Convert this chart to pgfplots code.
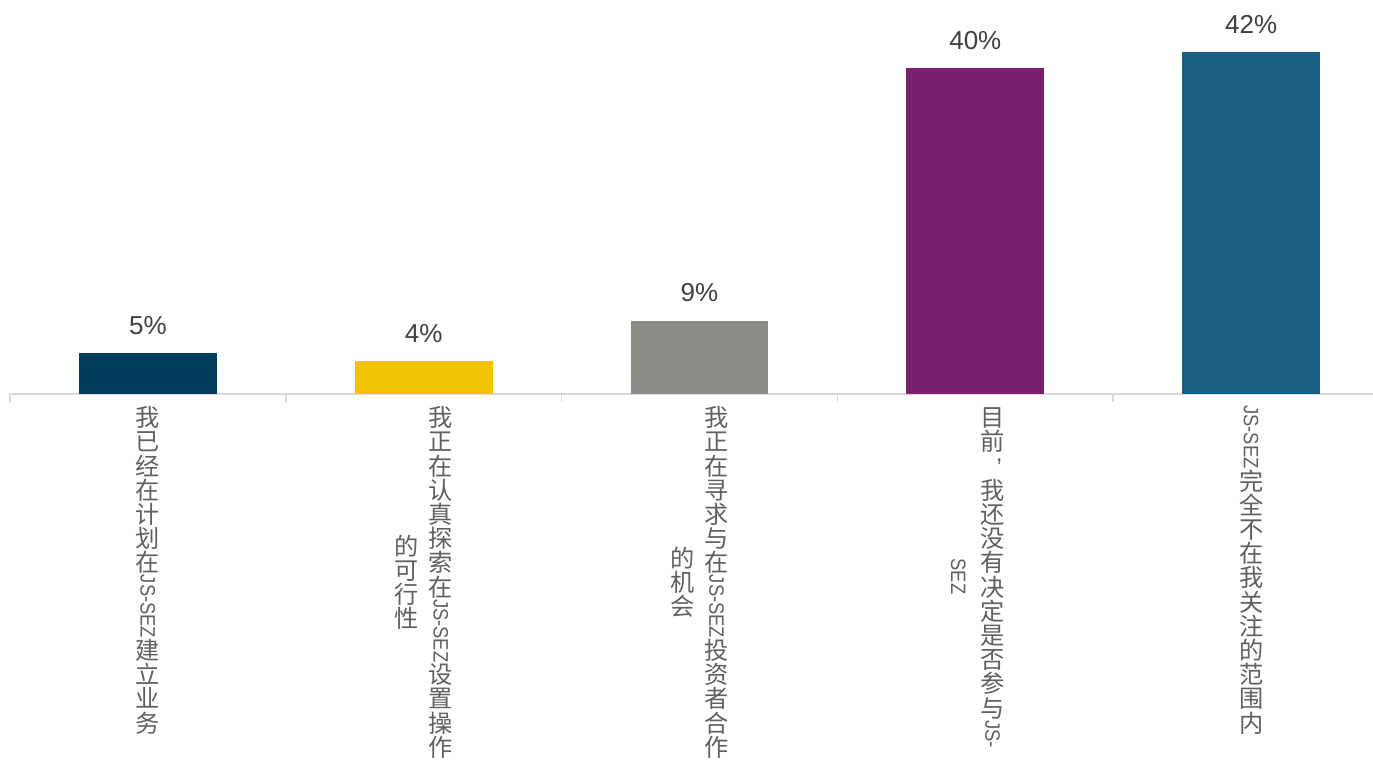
\documentclass[border=0pt]{standalone}
\usepackage{pgfplots}
\pgfplotsset{compat=1.18}
\usepackage{graphicx}
\usepackage{fontspec}
\setmainfont{Liberation Sans}
\newfontfamily\cjk{Noto Sans CJK SC}

\definecolor{cA}{HTML}{003D5C}
\definecolor{cB}{HTML}{F2C300}
\definecolor{cC}{HTML}{8C8C87}
\definecolor{cD}{HTML}{7A1F6C}
\definecolor{cE}{HTML}{176082}
\definecolor{axgray}{HTML}{D9D9D9}
\definecolor{labgray}{HTML}{606060}
\definecolor{valgray}{HTML}{404040}

% vertical (stacked) text: CJK upright, latin turned clockwise
\newlength\cw
\def\vcstop{\vcstop}
\newcommand\vc[1]{\vcaux#1\vcstop}
\def\vcaux#1{\ifx\vcstop#1\else\hbox to\cw{\hss\vrule height .88\cw depth .12\cw width 0pt\smash{\cjk #1}\hss}\expandafter\vcaux\fi}
\newcommand\vl[1]{\hbox to\cw{\hss\rotatebox{-90}{\scalebox{0.76}[0.86]{#1}}\hss}}
% comma of vertical text, at the top right of its cell
\newcommand\vcomma{\hbox to\cw{\hss\vrule height .88\cw depth .12\cw width 0pt\raisebox{.55\cw}{,}\kern.08\cw}}
\newcommand\labsetup{\fontsize{12.1pt}{14pt}\selectfont\setlength\cw{1em}\color{labgray}}
\newcommand\labone[1]{{\labsetup\hbox{$\vcenter{\offinterlineskip #1}$}}}
\newcommand\labtwo[2]{{\labsetup\hbox{$\vcenter{\offinterlineskip #2}$\hskip 5pt$\vcenter{\offinterlineskip #1}$}}}

\newcommand\labA{\labone{\vc{我已经在计划在}\vl{JS-SEZ}\vc{建立业务}}}
\newcommand\labB{\labtwo{\vc{我正在认真探索在}\vl{JS-SEZ}\vc{设置操作}}{\vc{的可行性}}}
\newcommand\labC{\labtwo{\vc{我正在寻求与在}\vl{JS-SEZ}\vc{投资者合作}}{\vc{的机会}}}
\newcommand\labD{\labtwo{\vc{目前}\vcomma\vc{我还没有决定是否参与}\vl{JS-}}{\vl{SEZ}}}
\newcommand\labE{\labone{\vl{JS-SEZ}\vc{完全不在我关注的范围内}}}

\begin{document}
\begin{tikzpicture}
\begin{axis}[
  name=ax,
  scale only axis, width=689.5pt, height=197pt,
  xmin=-0.5, xmax=4.5, ymin=0, ymax=48.4,
  ybar, bar width=0.5,
  axis x line*=bottom, axis y line=none, ytick=\empty,
  x axis line style={draw=axgray, line width=1pt},
  xtick={0,1,2,3,4},
  xticklabels={\labA,\labB,\labC,\labD,\labE},
  major tick length=0pt,
  minor xtick={-0.5,0.5,1.5,2.5,3.5,4.5},
  minor tick length=4pt, tick align=outside,
  minor tick style={draw=axgray, line width=0.8pt},
  xticklabel style={anchor=north, inner sep=0pt, yshift=-5.5pt},
  nodes near coords={\pgfmathprintnumber{\pgfplotspointmeta}\%},
  every node near coord/.append style={font=\fontsize{13pt}{15pt}\selectfont, color=valgray, anchor=base, inner sep=0pt, yshift=9.5pt},
  /pgf/number format/assume math mode=true,
  clip=false,
]
\addplot[fill=cA, draw=none, bar shift=0pt] coordinates {(0,5)};
\addplot[fill=cB, draw=none, bar shift=0pt] coordinates {(1,4)};
\addplot[fill=cC, draw=none, bar shift=0pt] coordinates {(2,9)};
\addplot[fill=cD, draw=none, bar shift=0pt] coordinates {(3,40)};
\addplot[fill=cE, draw=none, bar shift=0pt] coordinates {(4,42)};
\end{axis}
\pgfresetboundingbox
\useasboundingbox ([xshift=-5pt,yshift=-183pt]ax.south west) rectangle ([xshift=-8pt]ax.north east);
\end{tikzpicture}
\end{document}
